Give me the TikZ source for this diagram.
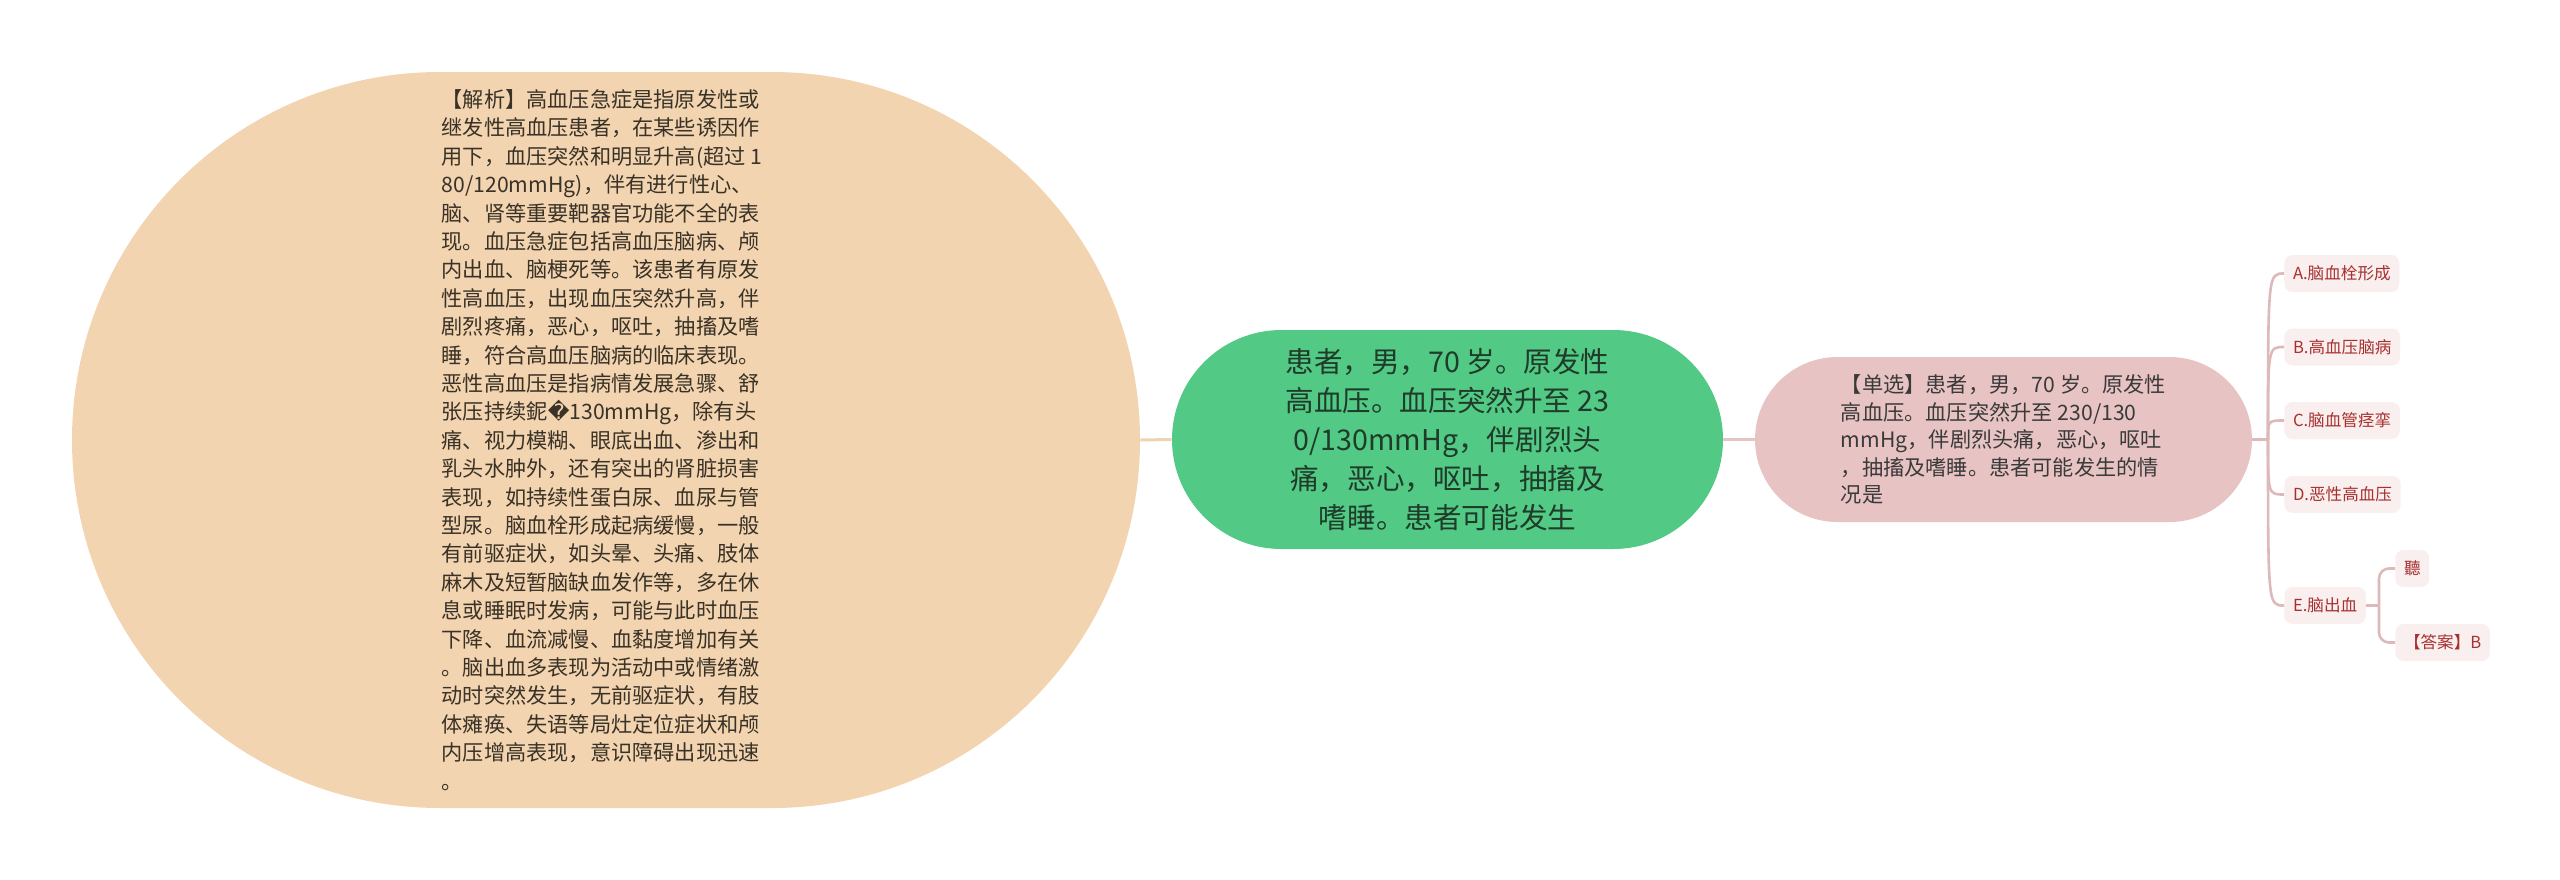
\documentclass[tikz,border=0pt]{standalone}
\usepackage{fontspec}
\newfontfamily\cjk{Noto Sans CJK SC}
\newfontfamily\dejavu{DejaVu Sans}
\usetikzlibrary{shapes.misc}
\definecolor{peach}{HTML}{F2D4B1}
\definecolor{peachline}{HTML}{F0D2B0}
\definecolor{anaink}{HTML}{3A3226}
\definecolor{mint}{HTML}{52C985}
\definecolor{mintink}{HTML}{1F3B29}
\definecolor{rose}{HTML}{E8C3C3}
\definecolor{roseink}{HTML}{3A3A3A}
\definecolor{twigline}{HTML}{DDB9B9}
\definecolor{optfill}{HTML}{F9EFEF}
\definecolor{optink}{HTML}{A8302F}
\begin{document}
\begin{tikzpicture}[x=0.5pt,y=-0.5pt,
  blob/.style={rounded rectangle,inner sep=0pt,draw=none},
  optbox/.style={fill=optfill,text=optink,rounded corners=4pt,inner xsep=4.3pt,inner ysep=0pt,
    minimum height=18.5pt,anchor=west,font=\cjk\fontsize{8.3pt}{10pt}\selectfont},
  twig/.style={draw=twigline,line width=1.3pt}]
\useasboundingbox (0,0) rectangle (2560,879);

% analysis blob
\node[blob,fill=peach,minimum width=534pt,minimum height=368pt] (ana) at (606,440) {};
\node[align=left,inner sep=0pt,text=anaink,font=\cjk\fontsize{10.6pt}{14.2pt}\selectfont,xshift=-2pt] (anatext) at (ana.center) {%
【解析】高血压急症是指原发性或\\
继发性高血压患者，在某些诱因作\\
用下，血压突然和明显升高(超过 1\\
80/120mmHg)，伴有进行性心、\\
脑、肾等重要靶器官功能不全的表\\
现。血压急症包括高血压脑病、颅\\
内出血、脑梗死等。该患者有原发\\
性高血压，出现血压突然升高，伴\\
剧烈疼痛，恶心，呕吐，抽搐及嗜\\
睡，符合高血压脑病的临床表现。\\
恶性高血压是指病情发展急骤、舒\\
张压持续鈮{\dejavu �}130mmHg，除有头\\
痛、视力模糊、眼底出血、渗出和\\
乳头水肿外，还有突出的肾脏损害\\
表现，如持续性蛋白尿、血尿与管\\
型尿。脑血栓形成起病缓慢，一般\\
有前驱症状，如头晕、头痛、肢体\\
麻木及短暂脑缺血发作等，多在休\\
息或睡眠时发病，可能与此时血压\\
下降、血流减慢、血黏度增加有关\\
。脑出血多表现为活动中或情绪激\\
动时突然发生，无前驱症状，有肢\\
体瘫痪、失语等局灶定位症状和颅\\
内压增高表现，意识障碍出现迅速\\
。};

% central question
\node[blob,fill=mint,minimum width=275.5pt,minimum height=109.5pt] (q) at (1447.5,439.5) {};
\node[align=center,inner sep=0pt,text=mintink,font=\cjk\fontsize{14.3pt}{19.5pt}\selectfont] (qtext) at (q.center) {%
患者，男，70 岁。原发性\\
高血压。血压突然升至 23\\
0/130mmHg，伴剧烈头\\
痛，恶心，呕吐，抽搐及\\
嗜睡。患者可能发生};

% question stem
\node[blob,fill=rose,minimum width=248.5pt,minimum height=82.5pt] (stem) at (2003.5,439.5) {};
\node[align=left,inner sep=0pt,text=roseink,font=\cjk\fontsize{10.6pt}{13.8pt}\selectfont] (stemtext) at (stem.center) {%
【单选】患者，男，70 岁。原发性\\
高血压。血压突然升至 230/130\\
mmHg，伴剧烈头痛，恶心，呕吐\\
，抽搐及嗜睡。患者可能发生的情\\
况是};

% options
\node[optbox] (a) at (2284,273.5) {A.脑血栓形成};
\node[optbox] (b) at (2284,347) {B.高血压脑病};
\node[optbox] (c) at (2284,420.5) {C.脑血管痉挛};
\node[optbox] (d) at (2284,494.5) {D.恶性高血压};
\node[optbox] (e) at (2284,605.5) {E.脑出血};
\node[optbox] (ting) at (2395,568.5) {聽};
\node[optbox] (ans) at (2395,642.5) {【答案】B};
\coordinate (hub) at (2268,439.5);
\coordinate (hubE) at (2379,605.5);

% connectors
\draw[draw=peachline,line width=1.5pt] (ana.east) -- (q.west);
\draw[draw=rose,line width=1.5pt] (q.east) -- (stem.west);
\draw[twig] (stem.east) -- (hub);
\foreach \n in {a,b,c,d,e}
  \draw[twig] (hub) .. controls (hub |- \n.west) .. (\n.west);
\draw[twig] (e.east) -- (hubE);
\draw[twig,rounded corners=5pt] (hubE) |- (ting.west);
\draw[twig,rounded corners=5pt] (hubE) |- (ans.west);
\end{tikzpicture}
\end{document}
